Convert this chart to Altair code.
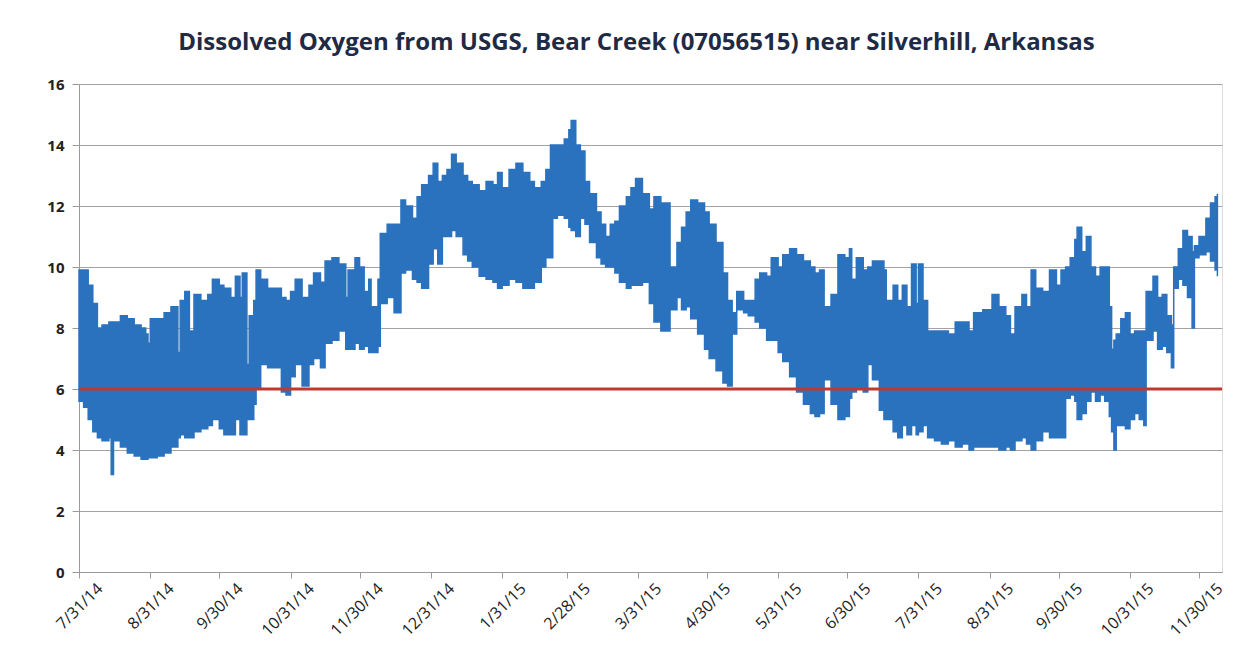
import altair as alt
import pandas as pd

# Day offsets from 7/31/2014 and the read daily envelope of dissolved oxygen (mg/L)
day = [0, 2, 4, 6, 8, 10, 13, 14, 15, 18, 21, 24, 27, 29, 30, 31, 34, 37, 40, 43,
       44, 46, 48, 50, 53, 56, 58, 61, 63, 66, 68, 70, 71, 73, 74, 76, 77, 79, 82, 85,
       88, 90, 92, 94, 97, 100, 102, 105, 107, 110, 113, 116, 117, 120, 122, 124, 126, 127, 130, 131,
       134, 137, 140, 142, 145, 147, 149, 152, 154, 156, 158, 160, 162, 164, 167, 169, 171, 174, 177, 180,
       182, 184, 187, 190, 193, 196, 198, 201, 203, 205, 206, 208, 211, 213, 214, 216, 218, 220, 222, 225,
       227, 229, 231, 233, 235, 238, 240, 242, 245, 248, 250, 253, 255, 257, 260, 262, 264, 266, 269, 272,
       274, 277, 280, 282, 284, 286, 289, 291, 294, 296, 299, 301, 304, 306, 309, 312, 315, 318, 320, 322,
       324, 327, 330, 333, 335, 336, 338, 341, 343, 345, 348, 350, 351, 354, 356, 358, 360, 362, 364, 365,
       367, 369, 372, 375, 378, 381, 384, 387, 389, 393, 396, 397, 400, 403, 405, 407, 410, 412, 414, 416,
       419, 422, 425, 427, 429, 431, 433, 434, 436, 438, 440, 442, 444, 446, 448, 449, 450, 451, 453, 455,
       457, 459, 461, 463, 464, 467, 469, 471, 473, 475, 476, 478, 480, 482, 484, 485, 487, 490, 492, 494,
       495]
do_high = [9.9, 9.9, 9.4, 8.8, 8.0, 8.1, 8.2, 8.2, 8.2, 8.4, 8.3, 8.1, 8.0, 7.8, 7.5, 8.3, 8.3, 8.5, 8.7, 7.2,
           8.9, 9.2, 7.9, 9.1, 8.9, 9.1, 9.6, 9.4, 9.3, 9.0, 9.7, 9.0, 9.8, 6.8, 8.4, 8.9, 9.9, 9.6, 9.3, 9.3,
           9.0, 8.9, 9.2, 9.6, 9.0, 9.4, 9.8, 9.5, 10.2, 10.3, 10.1, 9.0, 9.9, 10.3, 10.0, 9.2, 9.6, 8.7, 9.6, 11.1,
           11.4, 11.4, 12.2, 12.0, 11.6, 12.3, 12.7, 13.0, 13.4, 12.8, 13.0, 13.2, 13.7, 13.4, 13.0, 12.8, 12.7, 12.5, 12.8, 12.7,
           13.1, 12.6, 13.2, 13.4, 13.1, 12.8, 12.6, 12.8, 13.2, 14.0, 14.0, 14.0, 14.2, 14.5, 14.8, 14.0, 13.8, 12.8, 12.4, 11.8,
           11.4, 11.0, 11.4, 11.5, 12.0, 12.3, 12.6, 12.9, 12.4, 11.9, 12.3, 12.1, 12.1, 10.0, 10.8, 11.3, 11.8, 12.2, 12.1, 11.8,
           11.4, 10.8, 9.8, 8.9, 8.5, 9.2, 8.9, 8.9, 9.6, 9.8, 9.7, 10.3, 10.0, 10.4, 10.6, 10.4, 10.2, 10.0, 9.8, 9.9,
           8.7, 9.1, 10.4, 10.3, 10.6, 9.6, 10.3, 9.9, 10.0, 10.2, 10.2, 9.9, 8.9, 9.4, 8.9, 9.4, 8.7, 10.1, 8.8, 10.1,
           8.9, 7.9, 7.9, 7.9, 7.8, 8.2, 8.2, 7.9, 8.5, 8.6, 8.6, 9.1, 8.7, 8.4, 7.8, 8.7, 9.1, 8.7, 9.9, 9.3,
           9.2, 9.9, 9.4, 9.9, 10.0, 10.3, 10.9, 11.3, 10.5, 11.0, 10.0, 9.7, 10.0, 10.0, 8.7, 7.3, 7.6, 7.8, 8.3, 8.5,
           7.8, 7.9, 7.9, 7.9, 9.2, 9.7, 9.0, 9.1, 8.4, 8.1, 10.0, 10.6, 11.2, 11.0, 10.5, 10.7, 11.0, 11.6, 12.1, 12.3,
           12.4]
do_low = [5.6, 5.4, 5.0, 4.6, 4.4, 4.3, 4.4, 3.2, 4.3, 4.1, 3.9, 3.8, 3.7, 3.7, 3.75, 3.75, 3.8, 3.9, 4.1, 4.4,
          4.5, 4.4, 4.4, 4.6, 4.7, 4.8, 5.0, 4.7, 4.5, 4.5, 5.0, 4.5, 4.5, 5.0, 5.0, 5.5, 6.0, 6.8, 6.7, 6.7,
          5.9, 5.8, 6.4, 6.8, 6.1, 6.8, 7.0, 6.7, 7.5, 7.6, 7.9, 7.3, 7.3, 7.5, 7.3, 7.4, 7.2, 7.2, 7.4, 8.8,
          9.0, 8.5, 9.8, 9.9, 9.6, 9.5, 9.3, 10.1, 10.6, 10.1, 11.0, 11.0, 11.2, 11.0, 10.4, 10.2, 10.0, 9.7, 9.6, 9.5,
          9.3, 9.4, 9.6, 9.5, 9.3, 9.3, 9.5, 10.0, 10.3, 10.3, 11.6, 11.7, 11.6, 11.3, 11.2, 11.0, 11.6, 11.4, 10.8, 10.3,
          10.1, 10.0, 10.0, 9.8, 9.5, 9.3, 9.4, 9.4, 9.5, 8.8, 8.2, 7.9, 7.9, 8.6, 9.0, 8.6, 8.7, 8.3, 7.8, 7.3,
          7.0, 6.6, 6.2, 6.1, 7.8, 8.6, 8.5, 8.4, 8.2, 8.0, 7.6, 7.6, 7.2, 6.9, 6.4, 5.9, 5.5, 5.2, 5.1, 5.2,
          6.3, 5.5, 5.0, 5.1, 5.7, 5.9, 6.0, 5.9, 6.8, 6.3, 5.3, 5.0, 5.0, 4.6, 4.4, 4.8, 4.5, 4.8, 4.5, 4.6,
          4.8, 4.4, 4.3, 4.2, 4.3, 4.1, 4.2, 4.0, 4.1, 4.1, 4.1, 4.1, 4.0, 4.1, 4.0, 4.3, 4.4, 4.2, 4.0, 4.3,
          4.6, 4.4, 4.4, 4.4, 5.7, 5.8, 5.6, 5.0, 5.2, 5.6, 5.9, 5.6, 5.8, 5.6, 5.1, 4.6, 4.0, 4.8, 4.8, 4.7,
          5.0, 5.2, 5.0, 4.8, 7.6, 7.9, 7.3, 7.4, 7.2, 6.7, 9.3, 9.6, 9.4, 9.0, 8.0, 10.3, 10.4, 10.5, 10.2, 9.9,
          9.7]

standard = [6.0]
tick_dates = ["2014-07-31", "2014-08-31", "2014-09-30", "2014-10-31", "2014-11-30", "2014-12-31",
              "2015-01-31", "2015-02-28", "2015-03-31", "2015-04-30", "2015-05-31", "2015-06-30",
              "2015-07-31", "2015-08-31", "2015-09-30", "2015-10-31", "2015-11-30"]

base = pd.Timestamp("2014-07-31")
df = pd.DataFrame({
    "date": [(base + pd.Timedelta(days=d)).strftime("%Y-%m-%dT%H:%M:%S") for d in day],
    "high": do_high,
    "low": do_low,
})
std_df = pd.DataFrame({"date": ["2014-07-31T00:00:00", "2015-12-10T00:00:00"], "v": standard * 2})

tick_vals = []
for t in tick_dates:
    y, m, d = (int(s) for s in t.split("-"))
    tick_vals.append(alt.DateTime(year=y, month=m, date=d))

xscale = alt.Scale(domain=[alt.DateTime(year=2014, month=7, date=31),
                           alt.DateTime(year=2015, month=12, date=10)], nice=False)

xaxis = alt.Axis(values=tick_vals, format="%-m/%-d/%y", labelAngle=-45, grid=False,
                 title=None, domainColor="#9a9a9a", tickColor="#9a9a9a", tickSize=6,
                 labelFont="Open Sans", labelFontSize=16, labelColor="#222222",
                 labelAlign="right", labelBaseline="top", labelPadding=2,
                 labelOffset=15)
yaxis = alt.Axis(values=list(range(0, 17, 2)), grid=True, gridColor="#a3a3a3", gridWidth=1,
                 title=None, domainColor="#9a9a9a", tickColor="#9a9a9a", tickSize=7,
                 labelFont="Open Sans", labelFontSize=15, labelFontWeight="bold",
                 labelColor="#222222", labelPadding=8)

band = alt.Chart(df).mark_area(color="#2b72be", interpolate="step-after", opacity=1,
                               stroke="#2b72be", strokeWidth=1.5).encode(
    x=alt.X("date:T", scale=xscale, axis=xaxis),
    y=alt.Y("low:Q", scale=alt.Scale(domain=[0, 16]), axis=yaxis),
    y2="high:Q",
)

line6 = alt.Chart(std_df).mark_line(color="#c0392f", strokeWidth=3).encode(
    x=alt.X("date:T", scale=xscale),
    y=alt.Y("v:Q"),
)

chart = (band + line6).properties(
    width=1143,
    height=488,
    autosize=alt.AutoSizeParams(type="none"),
    padding={"left": 71, "top": 76, "right": 24, "bottom": 80},
    title=alt.TitleParams(
        "Dissolved Oxygen from USGS, Bear Creek (07056515) near Silverhill, Arkansas",
        font="Open Sans", fontSize=24, fontWeight="bold", color="#1f2a44",
        offset=22, dx=-14, anchor="middle",
    ),
).configure_view(stroke=None).configure(background="white")

chart.save("out.html", embed_options={"renderer": "svg", "actions": False})
